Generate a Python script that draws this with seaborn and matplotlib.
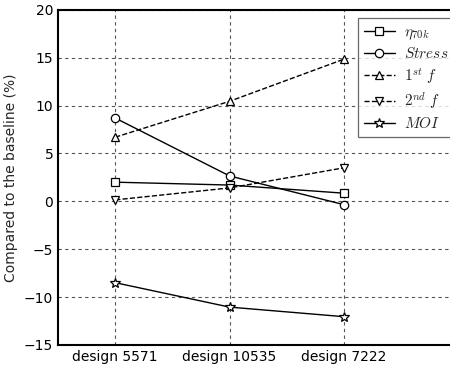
import matplotlib
matplotlib.use("Agg")
import matplotlib.pyplot as plt
import seaborn as sns
import pandas as pd

designs = ["design 5571", "design 10535", "design 7222"]
eta_70k = [2.0, 1.7, 0.85]
stress = [8.7, 2.65, -0.35]
first_f = [6.7, 10.45, 14.85]
second_f = [0.15, 1.4, 3.5]
moi = [-8.5, -11.05, -12.05]
y_ticks = [-15, -10, -5, 0, 5, 10, 15, 20]

series = [
    (r"$\eta_{70k}$", eta_70k, "s", "-"),
    (r"$Stress$", stress, "o", "-"),
    (r"$1^{st}\ f$", first_f, "^", "--"),
    (r"$2^{nd}\ f$", second_f, "v", "--"),
    (r"$MOI$", moi, "*", "-"),
]

sns.set_style("white")
plt.rcParams["font.family"] = ["DejaVu Sans"]
plt.rcParams["mathtext.fontset"] = "cm"

fig = plt.figure(figsize=(4.5, 3.65), dpi=100)
ax = fig.add_axes([0.129, 0.055, 0.915, 0.918])

for label, vals, mk, ls in series:
    df = pd.DataFrame({"design": designs, "value": vals})
    sns.lineplot(data=df, x="design", y="value", ax=ax, color="black",
                 marker=mk, markersize=6 if mk != "*" else 7,
                 markerfacecolor="white", markeredgecolor="black",
                 markeredgewidth=0.9, linestyle=ls, linewidth=1.0,
                 label=label, sort=False)

ax.set_xlim(-0.5, 3.1)
ax.set_ylim(-15, 20)
ax.set_yticks(y_ticks)
ax.set_xlabel("")
ax.set_ylabel("Compared to the baseline (%)", fontsize=10)
ax.tick_params(labelsize=10, direction="in", length=4, colors="black")
ax.grid(True, linestyle=(0, (3, 3)), color="#555555", linewidth=0.8)
for s in ax.spines.values():
    s.set_color("black")
    s.set_linewidth(1.5)

leg = ax.legend(loc="upper left", bbox_to_anchor=(358 / 450, 1 - 18 / 365),
                bbox_transform=fig.transFigure, borderaxespad=0.0,
                fontsize=11, frameon=True, fancybox=False,
                handlelength=2.0, labelspacing=0.3, handletextpad=0.6,
                borderpad=0.4)
leg.get_frame().set_edgecolor("#444444")
leg.get_frame().set_linewidth(0.9)

fig.savefig("out.png", dpi=100)
